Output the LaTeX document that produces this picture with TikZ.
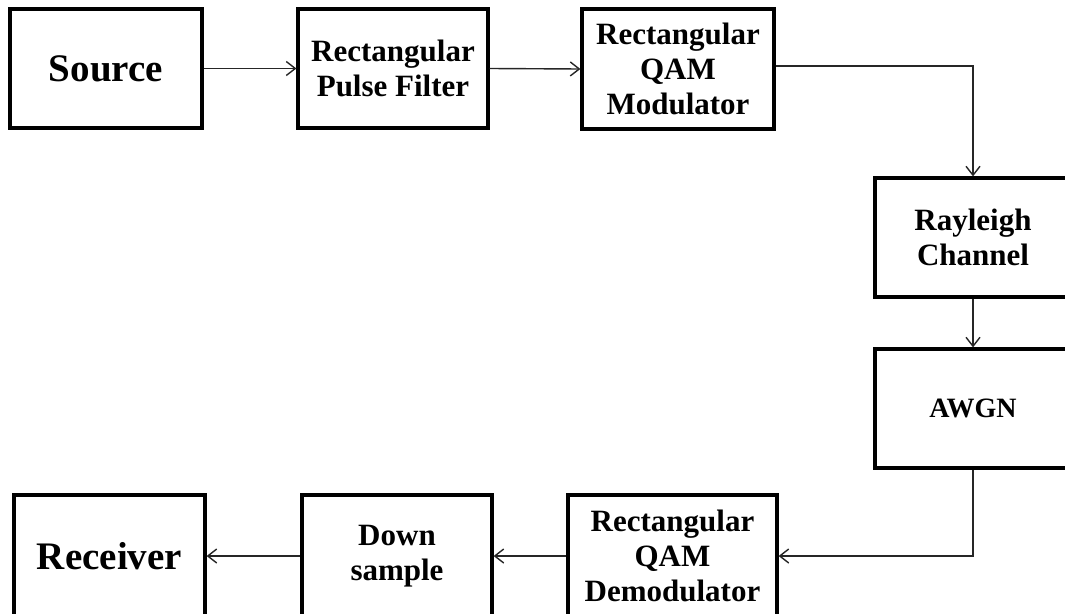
\documentclass[tikz,border=0pt]{standalone}
\usepackage{fontspec}
\setmainfont{Liberation Serif}
\usetikzlibrary{arrows.meta}
\tikzset{
  blk/.style={draw=black, line width=3.2pt, rectangle, inner sep=0pt, align=center,
    font=\fontsize{31}{35}\selectfont\bfseries},
  bigtxt/.style={font=\fontsize{39}{44}\selectfont\bfseries},
  conn/.style={draw=black!85, line width=1.4pt, -{Straight Barb[length=9pt,width=14pt,line width=1.4pt]}},
  line/.style={draw=black!85, line width=1.4pt}
}
\begin{document}
\begin{tikzpicture}[x=1pt,y=-1pt]
\useasboundingbox (0,0) rectangle (1065,613);
\clip (0,0) rectangle (1065,613);
\node[blk, bigtxt, minimum width=192pt, minimum height=119pt] (src) at (106,68.5) {Source};
\node[blk, minimum width=190pt, minimum height=119pt] (rpf) at (393,68.5) {Rectangular\\Pulse Filter};
\node[blk, minimum width=192pt, minimum height=120pt] (mod) at (678,69) {Rectangular\\QAM\\Modulator};
\node[blk, minimum width=196pt, minimum height=119pt] (ray) at (973,237.5) {Rayleigh\\Channel};
\node[blk, font=\fontsize{28}{32}\selectfont\bfseries, minimum width=196pt, minimum height=119pt] (awgn) at (973,408.5) {AWGN};
\node[blk, minimum width=209pt, minimum height=122pt] (dem) at (672.5,556) {Rectangular\\QAM\\Demodulator};
\node[blk, minimum width=190pt, minimum height=122pt] (down) at (397,556) {Down\\sample};
\node[blk, bigtxt, minimum width=191pt, minimum height=122pt] (rcv) at (109.5,556) {Receiver};
\draw[conn] (src.east) -- (rpf.west);
\draw[conn] (rpf.east) -- (mod.west);
\draw[conn] ([yshift=3pt]mod.east) -| (ray.north);
\draw[conn] (ray.south) -- (awgn.north);
\draw[conn] (awgn.south) |- (dem.east);
\draw[conn] (dem.west) -- (down.east);
\draw[conn] (down.west) -- (rcv.east);
\end{tikzpicture}
\end{document}
